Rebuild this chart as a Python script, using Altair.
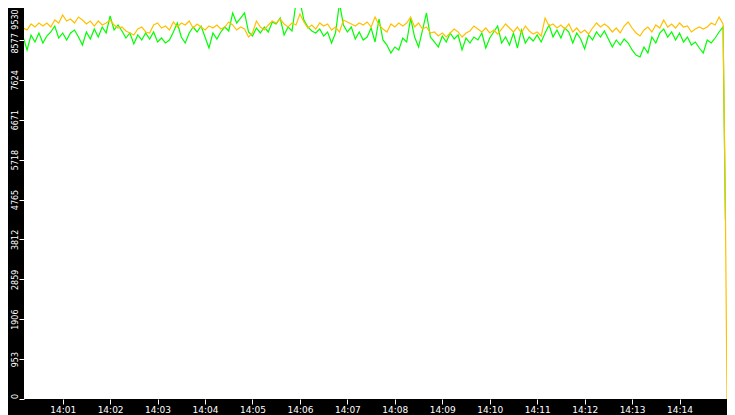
import altair as alt
import pandas as pd

# sample times, seconds after 14:00:00
seconds = list(range(0, 900, 5)) + [898, 900]

green = [
    7858, 8503, 8646, 8336, 8694, 8527, 8742, 8503, 8670, 8766,
    8909, 8622, 8742, 8575, 8742, 8813, 8646, 8455, 8766, 8598,
    8837, 8646, 8885, 8742, 9148, 8813, 8933, 8790, 8622, 8742,
    8479, 8694, 8575, 8742, 8598, 8766, 8527, 8622, 8503, 8575,
    8766, 8981, 8646, 8503, 8742,
    8885, 8766, 8909, 8646, 8383, 8742, 8598, 8766, 8885, 8790,
    9220, 8981, 9100, 9220, 8766, 8670, 8861, 8742, 8885, 8766,
    9005, 8957, 9100, 8694, 8885, 8790, 9458, 9506, 9052, 8885,
    8790, 8742, 8837, 8670, 8766, 8503, 8742, 9458, 8933, 8766,
    8885, 8598, 8766, 8575,
    8646, 8861, 8527, 9076, 8575, 8455, 8264, 8407, 8336, 8622,
    8527, 9100, 8646, 8407, 8813, 9220, 8646, 8527, 8407, 8670,
    8527, 8742, 8598, 8694, 8336, 8622, 8503, 8646, 8575, 8742,
    8383, 8622, 8766, 8909, 8503, 8646, 8455, 8742, 8383, 8813,
    8503, 8646, 8551, 8694, 8527,
    8742, 8933, 8646, 8813, 8622, 8861, 8766, 8503, 8742, 8598,
    8360, 8694, 8575, 8766, 8646, 8790, 8598, 8407, 8575, 8455,
    8598, 8503, 8336, 8216, 8168, 8407, 8264, 8646, 8503, 8742,
    8837, 8646, 8766, 8575, 8742, 8527, 8646, 8455, 8527, 8383,
    8264, 8575, 8503, 8622, 8766, 8885,
    4280, None,
]

orange = [
    8288, 8933, 8861, 8813, 8957, 8885, 8981, 8909, 8981, 8885,
    9052, 8981, 9172, 9028, 9076, 8981, 9124, 9052, 8957, 9028,
    8909, 9028, 8933, 8981, 9052, 8933, 8861, 8885, 8790, 8742,
    8694, 8837, 8885, 8766, 8742, 8933, 8981, 8861, 8909, 8813,
    9005, 8885, 8981, 8933, 9028,
    8861, 8957, 8885, 8813, 8909, 8861, 8933, 8837, 8885, 9005,
    8933, 8813, 8885, 8837, 8646, 8742, 9028, 8885, 8813, 8933,
    9028, 8981, 9076, 8957, 8885, 8981, 8933, 9196, 9005, 8861,
    8933, 8837, 8981, 8909, 8957, 8813, 8885, 8766, 9052, 9005,
    8957, 8909, 8981, 8933,
    9005, 8885, 9124, 8933, 8837, 8766, 8957, 8885, 8981, 8909,
    8981, 9124, 8885, 8981, 8837, 8885, 8742, 8766, 8670, 8742,
    8646, 8742, 8837, 8766, 8646, 8742, 8790, 8909, 8837, 8766,
    8861, 8742, 8813, 8718, 8837, 8957, 8861, 8766, 8885, 8742,
    8909, 8790, 8718, 8766, 8670,
    9100, 8909, 8957, 8861, 8933, 8837, 8957, 8766, 8861, 8742,
    8813, 8718, 8861, 8981, 8885, 8957, 8885, 8766, 8861, 8742,
    8909, 9005, 8861, 8742, 8670, 8813, 8885, 8766, 8933, 8861,
    9052, 8885, 8957, 8861, 8981, 8885, 8909, 8766, 8837, 8885,
    8837, 8885, 8981, 8933, 9124, 8957,
    4440, 0,
]

y_ticks = [0, 953, 1906, 2859, 3812, 4765, 5718, 6671, 7624, 8577, 9530]
x_tick_minutes = list(range(1, 15))

base = pd.Timestamp("2024-01-01 14:00:00")
times = [base + pd.Timedelta(seconds=s) for s in seconds]
df_g = pd.DataFrame({"t": times, "v": green}).dropna()
df_o = pd.DataFrame({"t": times, "v": orange})


def dt(m, s=0):
    return alt.DateTime(year=2024, month=1, date=1, hours=14, minutes=m, seconds=s)


FONT = "DejaVu Sans"
PLOT_W = 703
PLOT_H = 391

x_enc = alt.X(
    "t:T",
    scale=alt.Scale(domain=[dt(0, 1), dt(15, 0)], range=[-8, PLOT_W]),
    axis=alt.Axis(
        values=[dt(m) for m in x_tick_minutes],
        format="%H:%M",
        title=None,
        grid=False,
        domain=False,
        tickColor="white",
        tickSize=5,
        labelColor="white",
        labelFont=FONT,
        labelFontSize=9,
        labelPadding=1.5,
        labelFlush=False,
        labelOverlap=False,
    ),
)

y_enc = alt.Y(
    "v:Q",
    scale=alt.Scale(domain=[0, 9530], range=[PLOT_H, -8], nice=False, zero=False),
    axis=alt.Axis(
        values=y_ticks,
        format="d",
        title=None,
        grid=False,
        domain=False,
        tickColor="white",
        tickSize=5,
        labelColor="white",
        labelFont=FONT,
        labelFontSize=8,
        labelAngle=270,
        labelAlign="center",
        labelBaseline="alphabetic",
        labelPadding=2,
        labelFlush=False,
        labelOverlap=False,
        labelOffset={
            "condition": [
                {"test": "datum.value == 9530", "value": 19},
                {"test": "datum.value == 8577", "value": 3},
                {"test": "datum.value == 0", "value": -3},
            ],
            "value": 0,
        },
    ),
)

g_line = alt.Chart(df_g).mark_line(color="#00ff00", strokeWidth=1.2, clip=True).encode(x=x_enc, y=y_enc)
o_line = alt.Chart(df_o).mark_line(color="#ffc000", strokeWidth=1.2, clip=True).encode(x=x_enc, y=y_enc)

chart = (
    alt.layer(g_line, o_line)
    .properties(
        width=PLOT_W,
        height=PLOT_H,
        autosize=alt.AutoSizeParams(type="none"),
        padding={"left": 16, "top": 0, "right": 0, "bottom": 16},
        background="black",
    )
    .configure_view(fill="white", stroke=None)
)

chart.save("out.html", embed_options={"renderer": "svg", "actions": False})
